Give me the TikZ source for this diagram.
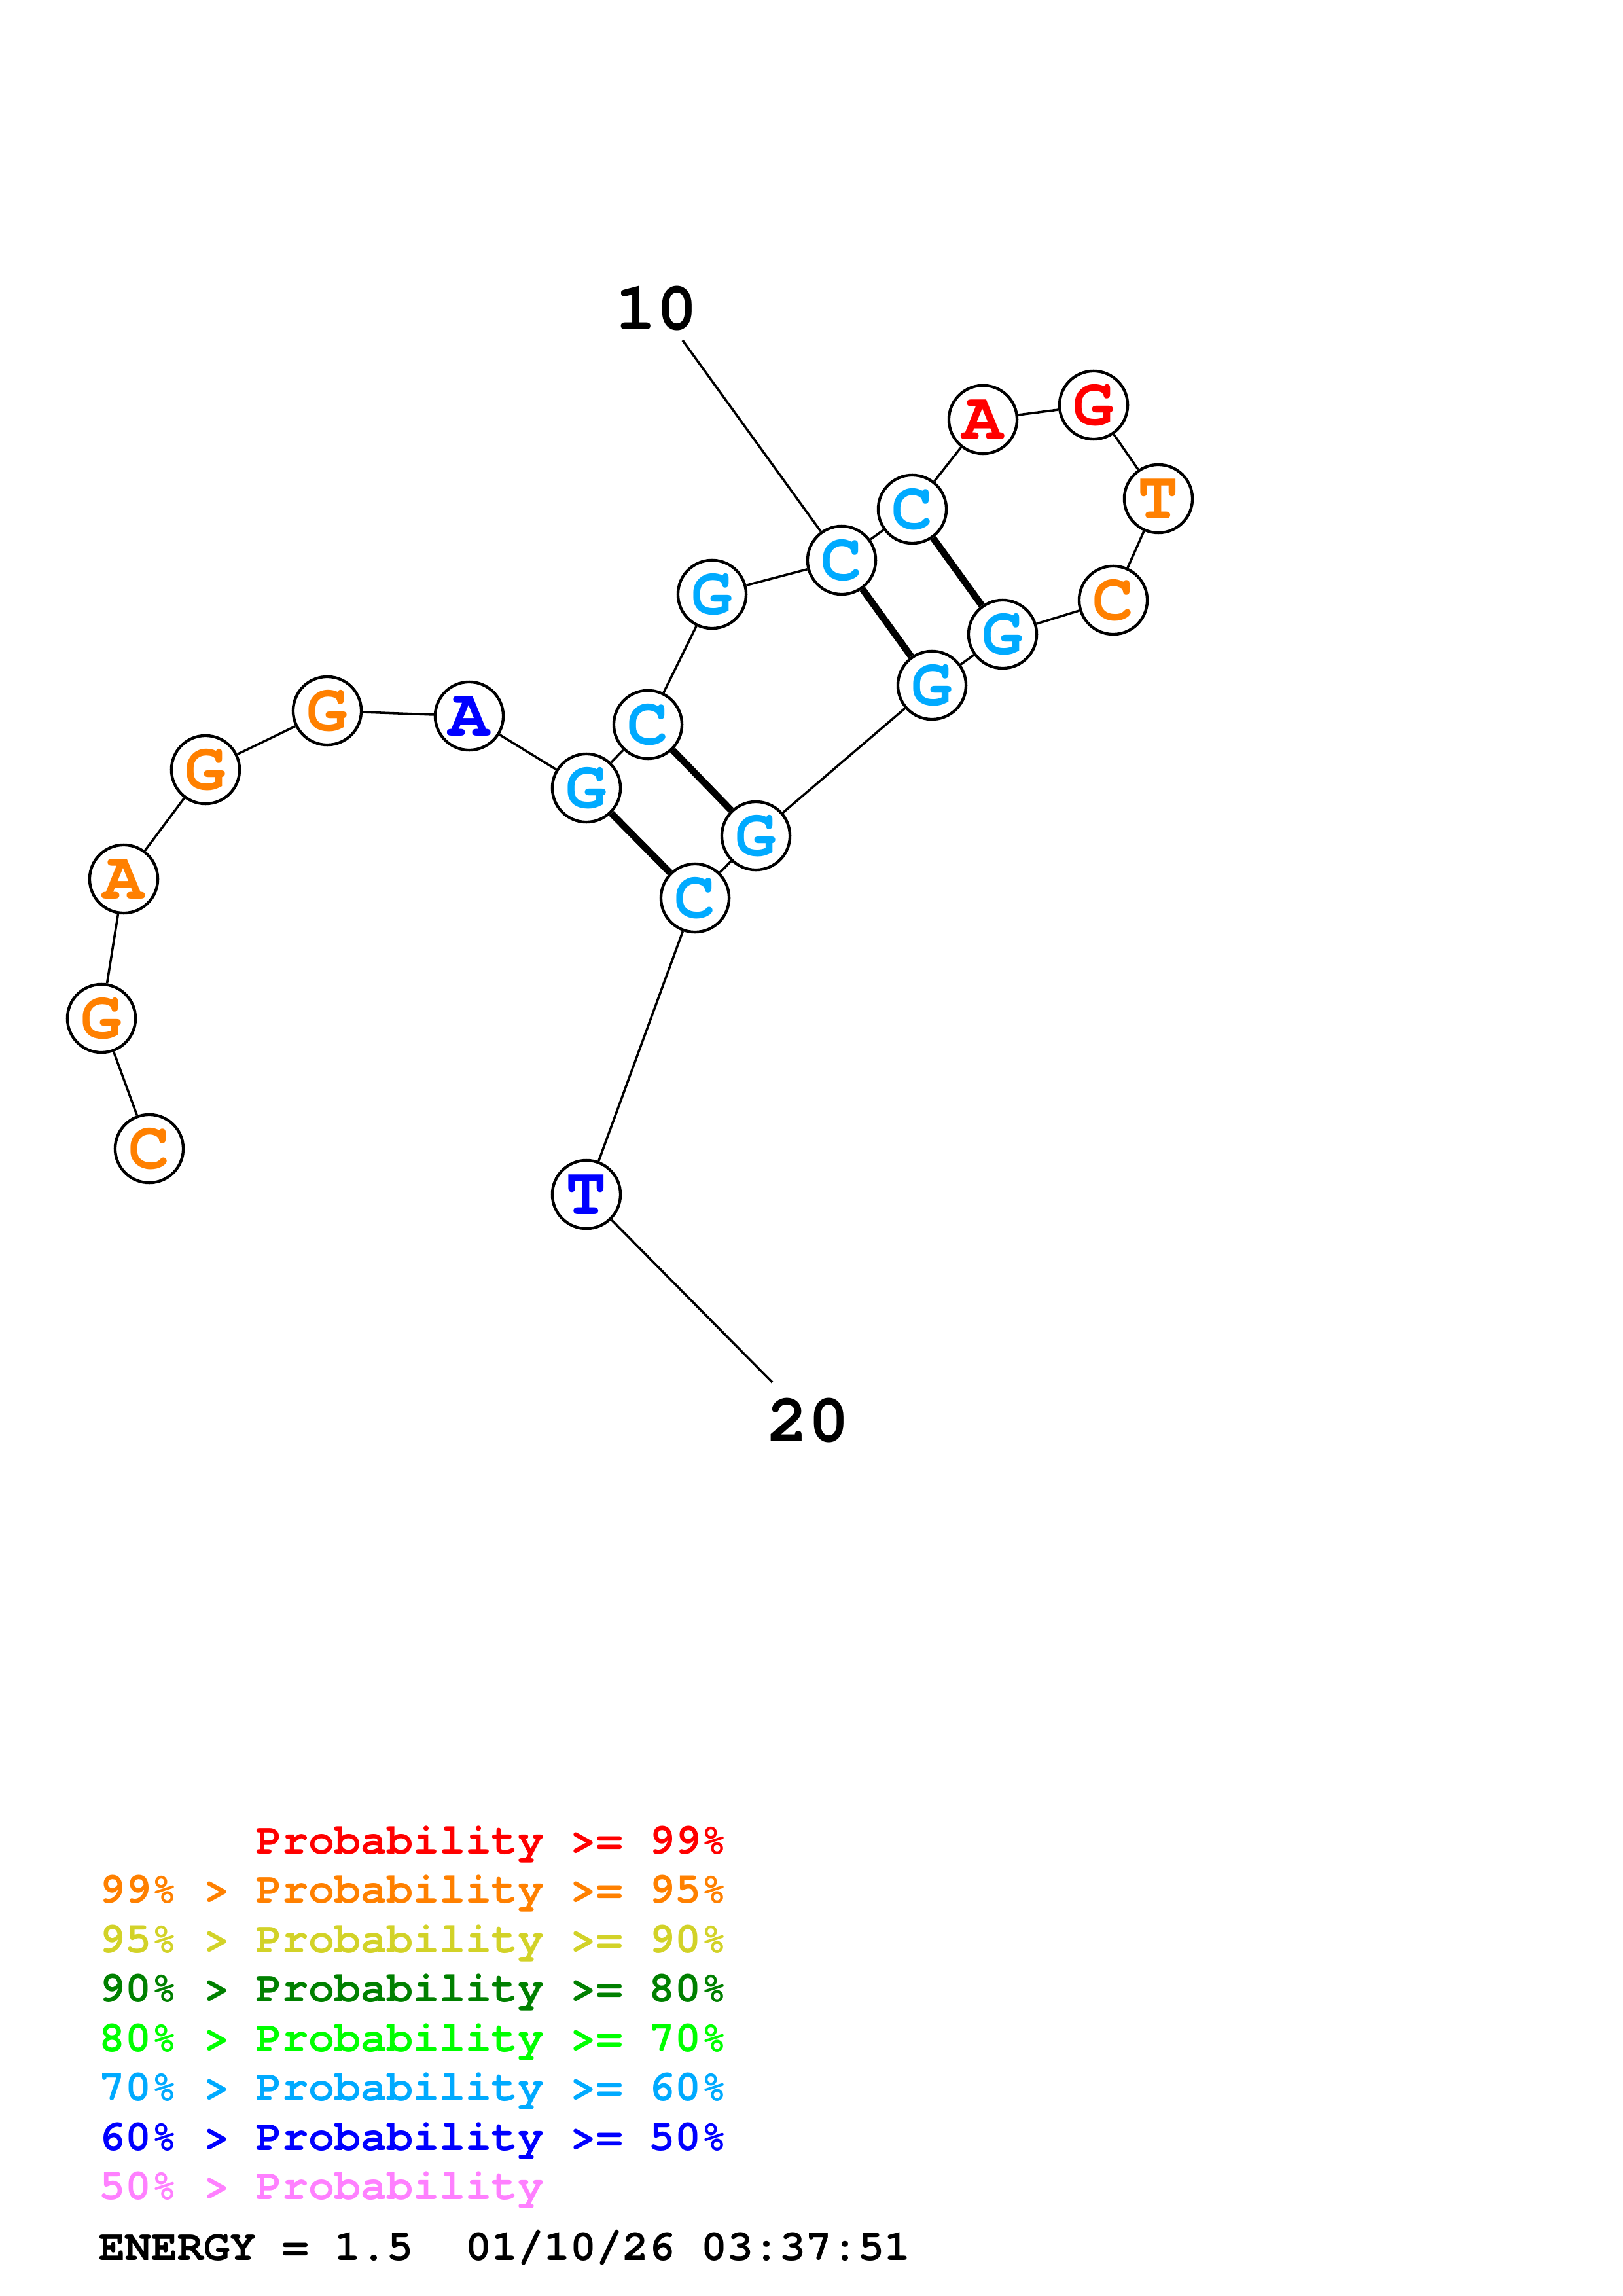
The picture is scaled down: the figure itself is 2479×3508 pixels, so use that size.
\documentclass[tikz,border=0pt]{standalone}
\usepackage{fontspec}
\newfontfamily\cour{TeX Gyre Cursor}
\definecolor{pRed}{RGB}{255,0,0}
\definecolor{pOrange}{RGB}{255,128,0}
\definecolor{pYellow}{RGB}{210,210,40}
\definecolor{pDGreen}{RGB}{0,128,0}
\definecolor{pGreen}{RGB}{0,255,0}
\definecolor{pLBlue}{RGB}{0,170,255}
\definecolor{pBlue}{RGB}{0,0,255}
\definecolor{pPink}{RGB}{255,128,255}
\begin{document}
\begin{tikzpicture}[x=0.24pt,y=-0.24pt,
  base/.style={circle, draw=black, line width=1.05pt, fill=white, minimum size=25pt, inner sep=0pt,
    font=\cour\bfseries\fontsize{25}{25}\selectfont},
  bb/.style={line width=0.85pt},
  pairline/.style={line width=2.5pt},
  numlab/.style={font=\cour\bfseries\fontsize{25}{25}\selectfont, inner sep=0pt},
  leg/.style={anchor=base west, inner sep=0pt, font=\cour\bfseries\fontsize{16}{16}\selectfont}]
\useasboundingbox (0,0) rectangle (2479,3508);
% nucleotides
\node[base, text=pOrange] (n1) at (228,1755) {C};
\node[base, text=pOrange] (n2) at (155,1556) {G};
\node[base, text=pOrange] (n3) at (189,1343) {A};
\node[base, text=pOrange] (n4) at (314,1176) {G};
\node[base, text=pOrange] (n5) at (500,1086) {G};
\node[base, text=pBlue] (n6) at (717,1094) {A};
\node[base, text=pLBlue] (n7) at (896,1204) {G};
\node[base, text=pLBlue] (n8) at (990,1107) {C};
\node[base, text=pLBlue] (n9) at (1088,908) {G};
\node[base, text=pLBlue] (n10) at (1286,856) {C};
\node[base, text=pLBlue] (n11) at (1394,778) {C};
\node[base, text=pRed] (n12) at (1502,641) {A};
\node[base, text=pRed] (n13) at (1671,619) {G};
\node[base, text=pOrange] (n14) at (1770,762) {T};
\node[base, text=pOrange] (n15) at (1701,917) {C};
\node[base, text=pLBlue] (n16) at (1532,969) {G};
\node[base, text=pLBlue] (n17) at (1424,1047) {G};
\node[base, text=pLBlue] (n18) at (1155,1277) {G};
\node[base, text=pLBlue] (n19) at (1062,1372) {C};
\node[base, text=pBlue] (n20) at (896,1825) {T};
% number labels
\node[numlab] (l10) at (1003,471) {10};
\node[numlab] (l20) at (1235,2170) {20};
\coordinate (e10) at (1043,520);
\coordinate (e20) at (1180,2112);
% backbone
\draw[bb] (n1)--(n2) (n2)--(n3) (n3)--(n4) (n4)--(n5) (n5)--(n6) (n6)--(n7) (n7)--(n8)
  (n8)--(n9) (n9)--(n10) (n10)--(n11) (n11)--(n12) (n12)--(n13) (n13)--(n14) (n14)--(n15)
  (n15)--(n16) (n16)--(n17) (n17)--(n18) (n18)--(n19) (n19)--(n20);
\draw[bb] (e10)--(n10);
\draw[bb] (n20)--(e20);
% pairs
\draw[pairline] (n7)--(n19) (n8)--(n18) (n10)--(n17) (n11)--(n16);
% legend
\node[leg, text=pRed] (g1) at (151,2832) {\phantom{99\%~>~}Probability >= 99\%};
\node[leg, text=pOrange] (g2) at (151,2907) {99\% > Probability >= 95\%};
\node[leg, text=pYellow] (g3) at (151,2983) {95\% > Probability >= 90\%};
\node[leg, text=pDGreen] (g4) at (151,3058) {90\% > Probability >= 80\%};
\node[leg, text=pGreen] (g5) at (151,3134) {80\% > Probability >= 70\%};
\node[leg, text=pLBlue] (g6) at (151,3209) {70\% > Probability >= 60\%};
\node[leg, text=pBlue] (g7) at (151,3285) {60\% > Probability >= 50\%};
\node[leg, text=pPink] (g8) at (151,3360) {50\% > Probability};
\node[leg, text=black] (g9) at (151,3453) {ENERGY = 1.5~~01/10/26 03:37:51};
\end{tikzpicture}
\end{document}
